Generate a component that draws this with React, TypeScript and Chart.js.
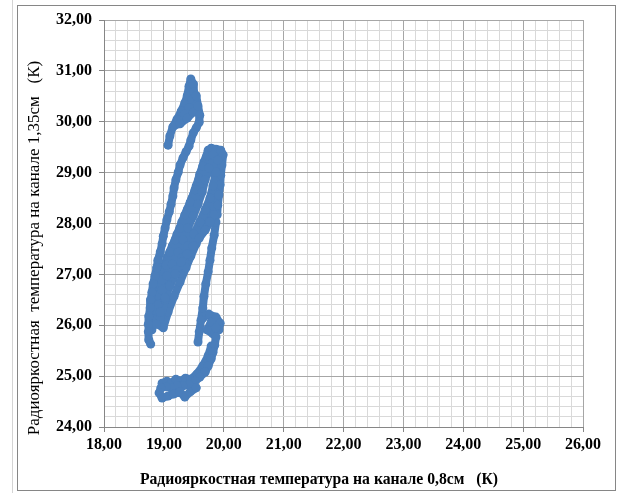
import { useEffect, useRef } from "react";
import { Chart, registerables } from "chart.js";

Chart.register(...registerables);

// Axis ranges (K)
const X_MIN = 18;
const X_MAX = 26;
const Y_MIN = 24;
const Y_MAX = 32;
const MINOR_STEP = 0.2;

const X_TITLE = "Радиояркостная температура на канале 0,8см   (К)";
const Y_TITLE = "Радиояркостная  температура на канале 1,35см   (К)";

// Upper loop and the long left branch (0,8 см / 1,35 см brightness temperatures)
const upperX = [19.07, 19.10, 19.15, 19.22, 19.29, 19.35, 19.39, 19.42, 19.45, 19.49, 19.50, 19.47, 19.42, 19.34, 19.24, 19.17, 19.27, 19.39, 19.49, 19.55, 19.54, 19.57, 19.60, 19.59, 19.54, 19.49, 19.45, 19.42, 19.37, 19.32, 19.27, 19.24, 19.20, 19.17, 19.15, 19.12, 19.09, 19.05, 19.02, 18.99, 18.97, 18.94, 18.90, 18.88, 18.85, 18.82, 18.80, 18.78, 18.77, 18.75, 18.74, 18.74, 18.75, 18.78];
const upperY = [29.54, 29.72, 29.90, 30.05, 30.21, 30.37, 30.51, 30.70, 30.84, 30.74, 30.58, 30.43, 30.27, 30.15, 30.03, 29.92, 29.96, 30.07, 30.19, 30.35, 30.51, 30.31, 30.13, 29.99, 29.88, 29.78, 29.64, 29.52, 29.41, 29.29, 29.15, 29.01, 28.86, 28.70, 28.54, 28.38, 28.23, 28.07, 27.91, 27.75, 27.60, 27.44, 27.28, 27.13, 26.97, 26.81, 26.65, 26.50, 26.34, 26.18, 26.02, 25.87, 25.71, 25.63];

// Main diagonal band, several passes
const mainX = [
  18.80, 18.85, 18.90, 18.97, 19.04, 19.10, 19.19, 19.27, 19.35, 19.44, 19.52, 19.59, 19.65, 19.72, 19.79, 19.87, 19.95, 19.99,
  19.97, 19.95, 19.94, 19.92, 19.90, 19.89,
  19.82, 19.75, 19.69, 19.64, 19.57, 19.49, 19.40, 19.32, 19.24, 19.14, 19.05, 18.97, 18.90, 18.85,
  18.94, 19.02, 19.10, 19.20, 19.30, 19.40, 19.50, 19.60, 19.69, 19.77, 19.82, 19.87, 19.90,
  19.84, 19.77, 19.69, 19.59, 19.49, 19.39, 19.29, 19.19, 19.10, 19.02, 18.94, 18.87,
];
const mainY = [
  25.91, 26.30, 26.59, 26.89, 27.18, 27.44, 27.68, 27.91, 28.17, 28.42, 28.66, 28.89, 29.13, 29.33, 29.48, 29.46, 29.44, 29.35,
  29.15, 28.95, 28.76, 28.56, 28.36, 28.17,
  29.35, 29.09, 28.86, 28.62, 28.38, 28.15, 27.91, 27.68, 27.44, 27.20, 26.97, 26.69, 26.40, 26.10,
  26.14, 26.50, 26.79, 27.09, 27.32, 27.56, 27.79, 28.03, 28.27, 28.50, 28.74, 29.01, 29.25,
  28.17, 28.03, 27.87, 27.71, 27.56, 27.40, 27.24, 27.01, 26.77, 26.54, 26.26, 26.02,
];

// Extra passes through the middle of the main band
const innerX = [
  19.74, 19.67, 19.60, 19.54, 19.47, 19.39, 19.30, 19.22, 19.14, 19.05, 18.97, 18.90, 18.84, 18.78,
  18.99, 19.07, 19.17, 19.27, 19.37, 19.45, 19.54, 19.62, 19.70, 19.79, 19.85, 19.90, 19.94, 19.95, 19.92,
];
const innerY = [
  29.44, 29.21, 28.97, 28.74, 28.50, 28.27, 28.03, 27.79, 27.56, 27.32, 27.05, 26.73, 26.42, 26.10,
  25.95, 26.26, 26.57, 26.85, 27.13, 27.36, 27.60, 27.83, 28.07, 28.31, 28.54, 28.78, 29.01, 29.25, 29.44,
];

// Right descending strand
const strandX = [19.87, 19.84, 19.80, 19.77, 19.74, 19.70, 19.67, 19.65, 19.62, 19.59, 19.57];
const strandY = [28.03, 27.77, 27.52, 27.28, 27.05, 26.81, 26.57, 26.34, 26.10, 25.87, 25.67];

// Lower hook
const hookX = [19.65, 19.75, 19.87, 19.94, 19.92, 19.82, 19.72, 19.79, 19.87, 19.87, 19.85, 19.82, 19.79, 19.74, 19.69, 19.60, 19.52, 19.42, 19.32, 19.22, 19.12, 19.04, 18.95, 18.92, 18.97, 19.07, 19.17, 19.27, 19.35, 19.44, 19.54];
const hookY = [26.14, 26.22, 26.16, 26.04, 25.91, 25.83, 25.91, 26.06, 25.95, 25.77, 25.61, 25.47, 25.34, 25.20, 25.08, 24.98, 24.90, 24.83, 24.81, 24.81, 24.77, 24.79, 24.77, 24.67, 24.57, 24.61, 24.65, 24.69, 24.59, 24.69, 24.77];

// Upper edge of the hook
const hookTopX = [18.97, 19.05, 19.12, 19.20, 19.28, 19.36, 19.45, 19.55, 19.65, 19.74, 19.79];
const hookTopY = [24.86, 24.90, 24.86, 24.94, 24.90, 24.96, 24.94, 25.04, 25.20, 25.40, 25.59];

const SERIES = [
  [upperX, upperY],
  [mainX, mainY],
  [innerX, innerY],
  [strandX, strandY],
  [hookX, hookY],
  [hookTopX, hookTopY],
];

const MARK_COLOR = "#4a7ebb";

const isMajor = (v: number) => Math.abs(v - Math.round(v)) < 1e-6;
const fmt = (v: number) => (isMajor(v) ? Math.round(v).toFixed(2).replace(".", ",") : "");

const axisTitles = {
  id: "axisTitles",
  afterDraw(chart: any) {
    const { ctx, chartArea } = chart;
    ctx.save();
    ctx.fillStyle = "#000";
    ctx.textAlign = "center";
    ctx.textBaseline = "middle";
    ctx.font = 'bold 15.7px "Liberation Serif"';
    ctx.fillText(X_TITLE, chartArea.left + 215, chartArea.bottom + 53);
    ctx.translate(chartArea.left - 69, chartArea.top + 228);
    ctx.rotate(-Math.PI / 2);
    ctx.font = '17px "Liberation Serif"';
    ctx.fillText(Y_TITLE, 0, 0);
    ctx.restore();
  },
};

export default function App() {
  const ref = useRef<HTMLCanvasElement>(null);

  useEffect(() => {
    if (!ref.current) return;
    const tickFont = { family: '"Liberation Serif"', size: 16, weight: "bold" as const };
    const gridColor = (c: any) => (isMajor(c.tick.value) ? "#a6a6a6" : "#d9d9d9");
    const tickColor = (c: any) => (isMajor(c.tick.value) ? "#868686" : "rgba(0,0,0,0)");

    const chart = new Chart(ref.current, {
      type: "scatter",
      data: {
        datasets: SERIES.map(([xs, ys]) => ({
          data: xs.map((x, i) => ({ x, y: ys[i] })),
          showLine: true,
          borderColor: MARK_COLOR,
          backgroundColor: MARK_COLOR,
          borderWidth: 8,
          borderJoinStyle: "round" as const,
          borderCapStyle: "round" as const,
          pointRadius: 4.5,
          pointBorderWidth: 0,
        })),
      },
      options: {
        responsive: false,
        animation: false,
        layout: { padding: { left: 0, top: 20, right: 38, bottom: 0 } },
        plugins: {
          legend: { display: false },
          tooltip: { enabled: false },
        },
        scales: {
          x: {
            type: "linear",
            min: X_MIN,
            max: X_MAX,
            ticks: {
              stepSize: MINOR_STEP,
              maxTicksLimit: 100,
              autoSkip: false,
              maxRotation: 0,
              callback: (v: any) => fmt(Number(v)),
              color: "#000",
              font: tickFont,
              padding: 3,
            },
            grid: { color: gridColor, tickColor, tickLength: 5, lineWidth: 1 },
            border: { display: true, color: "#868686", width: 1 },
            afterFit: (s: any) => {
              s.height = 66;
            },
          },
          y: {
            type: "linear",
            min: Y_MIN,
            max: Y_MAX,
            ticks: {
              stepSize: MINOR_STEP,
              maxTicksLimit: 100,
              autoSkip: false,
              callback: (v: any) => fmt(Number(v)),
              color: "#000",
              font: tickFont,
              padding: 7,
            },
            grid: { color: gridColor, tickColor, tickLength: 5, lineWidth: 1 },
            border: { display: true, color: "#868686", width: 1 },
            afterFit: (s: any) => {
              s.width = 104;
            },
          },
        },
      },
      plugins: [axisTitles],
    });
    return () => chart.destroy();
  }, []);

  return (
    <div style={{ position: "absolute", left: 0, top: 0, width: 621, height: 493, background: "#fff", overflow: "hidden" }}>
      <div style={{ position: "absolute", left: 12, top: 0, width: 1, height: 493, background: "#d4d4d4" }} />
      <div
        style={{
          position: "absolute",
          left: 17,
          top: 5,
          width: 599,
          height: 486,
          border: "1px solid #868686",
          boxSizing: "border-box",
        }}
      />
      <canvas ref={ref} width={621} height={493} style={{ position: "absolute", left: 0, top: 0, width: 621, height: 493 }} />
    </div>
  );
}
